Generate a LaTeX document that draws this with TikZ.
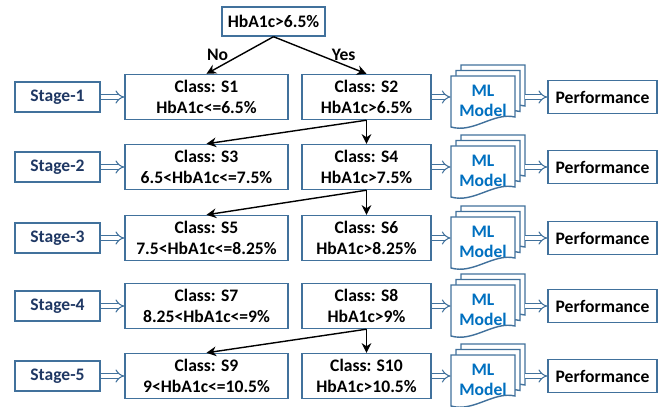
\documentclass[tikz,border=0pt]{standalone}
\usepackage{fontspec}
\setmainfont{Carlito}
\usetikzlibrary{arrows.meta}
\definecolor{boxblue}{HTML}{41719C}
\definecolor{stagenavy}{HTML}{1F3864}
\definecolor{mlblue}{HTML}{0070C0}

\begin{document}
\begin{tikzpicture}[
    font=\bfseries\fontsize{10}{11.5}\selectfont,
    box/.style={rectangle,draw=boxblue,line width=0.8pt,fill=white,align=center,inner sep=1pt},
    stagebox/.style={box,minimum width=1.7cm,minimum height=0.6cm,text=stagenavy},
    classa/.style={box,minimum width=3.26cm,minimum height=0.9cm},
    classb/.style={box,minimum width=2.58cm,minimum height=0.9cm},
    perfbox/.style={box,minimum width=2.18cm,minimum height=0.66cm},
    mlbox/.style={rectangle,minimum width=1.28cm,inner sep=0pt,align=center,text=mlblue},
    pics/sheet/.style={code={\draw[draw=boxblue,line width=0.8pt,fill=white] (0,0) -- (1.28,0) -- (1.28,-0.82) .. controls (0.85,-0.72) and (0.45,-1.15) .. (0,-1.02) -- cycle;}},
    split/.style={-{Stealth[length=5.5pt,width=5.5pt]},line width=0.8pt},
    hollow/.style={draw=boxblue,double=white,line width=0.6pt,double distance=2pt,-{Implies[length=4pt,width=8pt]}},
  ]
    \useasboundingbox (0,0) rectangle (13.24,8.14);

    % first test
    \node[box,minimum width=2.06cm,minimum height=0.58cm] (root) at (5.47,7.71) {HbA1c>6.5\%};

    % stages, models and results
    \foreach \r/\y in {1/6.2,2/4.8,3/3.38,4/2.02,5/0.62}{
      \node[stagebox] (st\r) at (1.15,\y) {Stage-\r};
      \pic at (9.22,\y+0.64) {sheet};
      \pic at (9.12,\y+0.53) {sheet};
      \pic at (9.02,\y+0.42) {sheet};
      \node[mlbox] (ml\r) at (9.66,\y-0.08) {ML\\Model};
      \coordinate (mlr\r) at (10.5,\y);
      \node[perfbox] (pf\r) at (12.05,\y) {Performance};
    }

    % classes
    \node[classa] (cl1) at (4.13,6.2) {Class: S1\\HbA1c<=6.5\%};
    \node[classb] (cl2) at (7.33,6.2) {Class: S2\\HbA1c>6.5\%};
    \node[classa] (cl3) at (4.13,4.8) {Class: S3\\6.5<HbA1c<=7.5\%};
    \node[classb] (cl4) at (7.33,4.8) {Class: S4\\HbA1c>7.5\%};
    \node[classa] (cl5) at (4.13,3.38) {Class: S5\\7.5<HbA1c<=8.25\%};
    \node[classb] (cl6) at (7.33,3.38) {Class: S6\\HbA1c>8.25\%};
    \node[classa] (cl7) at (4.13,2.02) {Class: S7\\8.25<HbA1c<=9\%};
    \node[classb] (cl8) at (7.33,2.02) {Class: S8\\HbA1c>9\%};
    \node[classa] (cl9) at (4.13,0.62) {Class: S9\\9<HbA1c<=10.5\%};
    \node[classb] (cl10) at (7.33,0.62) {Class: S10\\HbA1c>10.5\%};

    % splits
    \draw[split] (root.south) -- node[left=3pt] {No} (cl1.north);
    \draw[split] (root.south) -- node[right=3pt] {Yes} (cl2.north);
    \draw[split] (cl2.south) -- (cl3.north);
    \draw[split] (cl2.south) -- (cl4.north);
    \draw[split] (cl4.south) -- (cl5.north);
    \draw[split] (cl4.south) -- (cl6.north);
    \draw[split] (cl8.south) -- (cl9.north);
    \draw[split] (cl8.south) -- (cl10.north);

    % block arrows
    \foreach \r/\a/\b in {1/1/2,2/3/4,3/5/6,4/7/8,5/9/10}{
      \draw[hollow] (st\r.east) -- (cl\a.west);
      \draw[hollow] (cl\b.east) -- (cl\b.east -| ml\r.west);
      \draw[hollow] (mlr\r) -- (pf\r.west);
    }
\end{tikzpicture}
\end{document}
